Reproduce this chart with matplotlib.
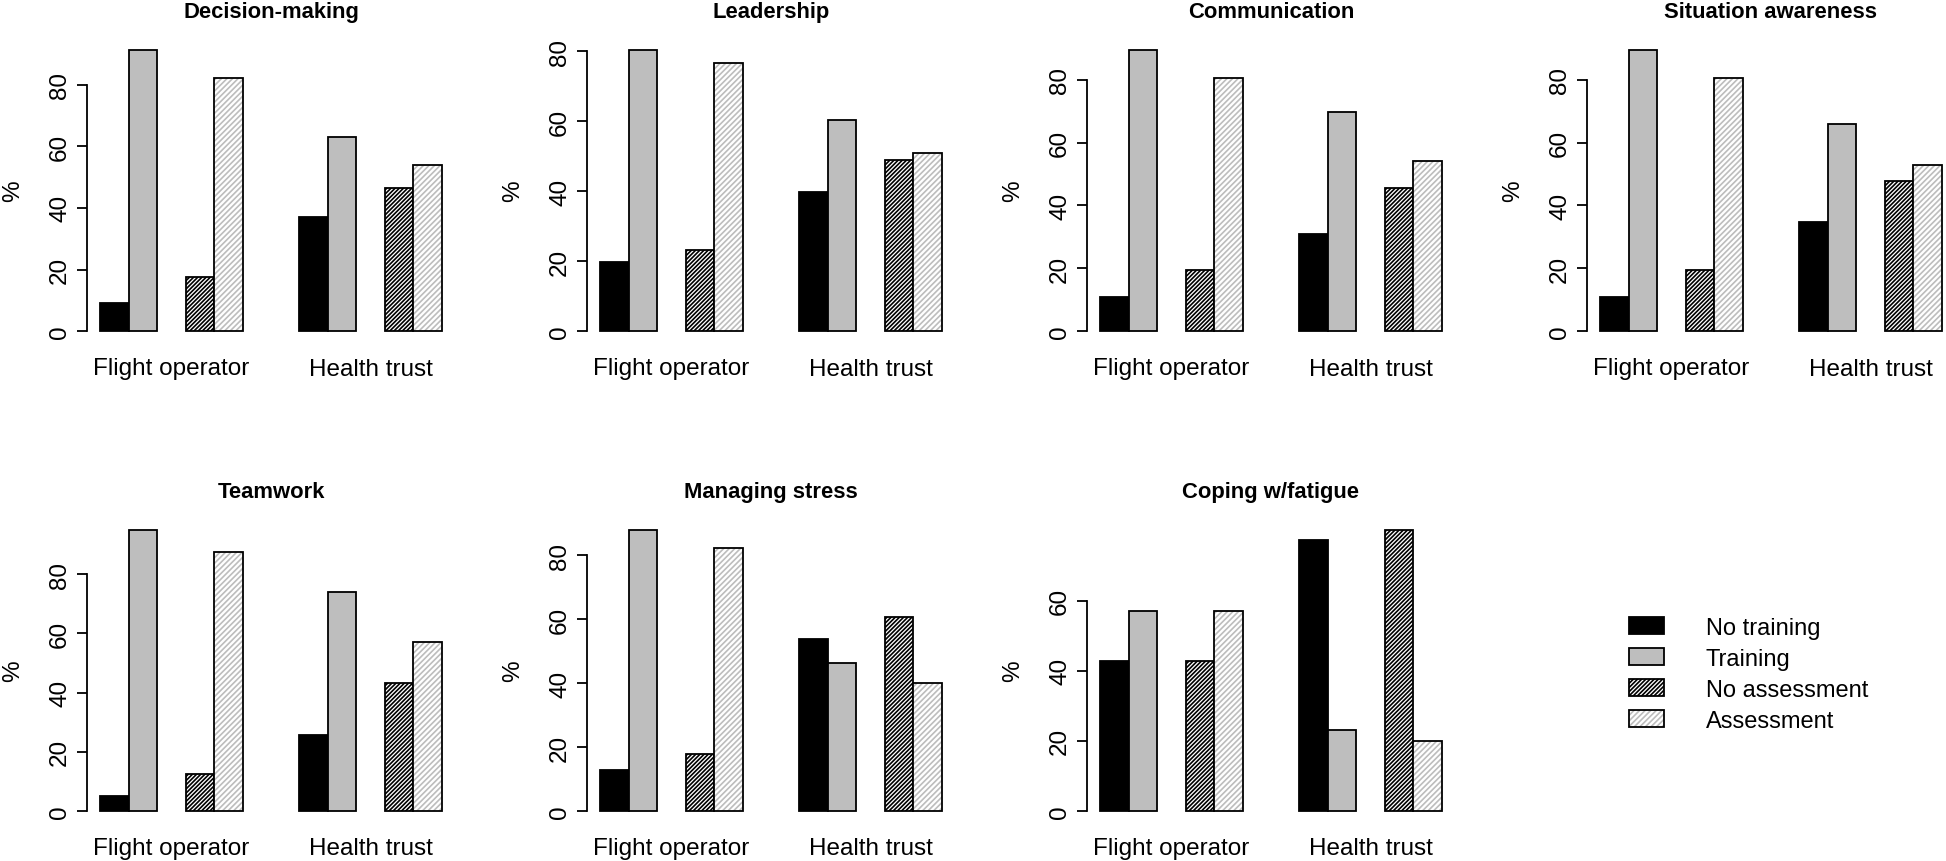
"""
NTS skills: training / assessment by organisation (flight operator vs health trust)
"""
import matplotlib
matplotlib.use("Agg")
import matplotlib.pyplot as plt
import matplotlib.transforms as mtrans
from matplotlib.patches import Patch

plt.rcParams["font.family"] = ["Liberation Sans", "DejaVu Sans"]
plt.rcParams["hatch.linewidth"] = 1.2

# ── data (% of respondents), order: FO no/yes training, FO no/yes assessment,
#    HT no/yes training, HT no/yes assessment
skills = ["Decision-making", "Leadership", "Communication", "Situation awareness",
          "Teamwork", "Managing stress", "Coping w/fatigue"]
no_training_fo  = [9.1, 19.9, 10.9, 10.9, 5.2, 12.7, 42.9]
training_fo     = [91.3, 80.4, 89.5, 89.5, 95.0, 88.1, 57.1]
no_assess_fo    = [17.7, 23.3, 19.5, 19.5, 12.6, 18.0, 42.7]
assess_fo       = [82.1, 76.7, 80.5, 80.5, 87.5, 82.3, 57.1]
no_training_ht  = [36.9, 39.7, 30.9, 34.6, 25.8, 53.8, 77.4]
training_ht     = [63.1, 60.2, 69.7, 66.0, 73.9, 46.3, 23.1]
no_assess_ht    = [46.6, 48.8, 45.7, 47.9, 43.2, 60.6, 80.3]
assess_ht       = [53.8, 51.0, 54.2, 52.7, 56.9, 40.0, 20.1]
ytick_max       = [80, 80, 80, 80, 80, 80, 60]
group_labels    = ["Flight operator", "Health trust"]
legend_labels   = ["No training", "Training", "No assessment", "Assessment"]

GRAY = "#BEBEBE"
HATCH_DARK = ("black", "////////")
HATCH_LIGHT = ("#BDBDBD", "//////")
FS = 17.5

W, H = 1946, 862
fig = plt.figure(figsize=(W / 100, H / 100), dpi=100)
fig.patch.set_facecolor("white")

ax_w = 368.6
ax_h = 304.0
row_top = [39.5, 519.3]


def hbar(ax, x, h, style):
    ax.bar(x, h, width=1, align="edge", facecolor="white", edgecolor=style[0],
           hatch=style[1], lw=0)
    ax.bar(x, h, width=1, align="edge", fill=False, edgecolor="black", lw=1.3)


for i, name in enumerate(skills):
    row, col = divmod(i, 4)
    left = 86.7 + 500 * col
    top = row_top[row]
    ax = fig.add_axes([left / W, 1 - (top + ax_h) / H, ax_w / W, ax_h / H])

    vals = [no_training_fo[i], training_fo[i], no_assess_fo[i], assess_fo[i],
            no_training_ht[i], training_ht[i], no_assess_ht[i], assess_ht[i]]
    xs = [1, 2, 4, 5, 8, 9, 11, 12]

    ax.bar(xs[0], vals[0], width=1, align="edge", color="black", edgecolor="black", lw=1.3)
    ax.bar(xs[1], vals[1], width=1, align="edge", color=GRAY, edgecolor="black", lw=1.3)
    hbar(ax, xs[2], vals[2], HATCH_DARK)
    hbar(ax, xs[3], vals[3], HATCH_LIGHT)
    ax.bar(xs[4], vals[4], width=1, align="edge", color="black", edgecolor="black", lw=1.3)
    ax.bar(xs[5], vals[5], width=1, align="edge", color=GRAY, edgecolor="black", lw=1.3)
    hbar(ax, xs[6], vals[6], HATCH_DARK)
    hbar(ax, xs[7], vals[7], HATCH_LIGHT)

    m = max(vals)
    ax.set_xlim(0.52, 13.48)
    ax.set_ylim(-0.04 * m, 1.04 * m)
    ticks = list(range(0, ytick_max[i] + 1, 20))
    ax.set_yticks(ticks)
    ax.set_yticklabels([str(t) for t in ticks], rotation=90, va="center")
    ax.spines[["top", "right", "bottom"]].set_visible(False)
    ax.spines["left"].set_bounds(0, ytick_max[i])
    ax.spines["left"].set_linewidth(1.3)
    ax.tick_params(axis="y", length=7.2, width=1.3, labelsize=FS, pad=4)
    ax.set_xticks([])

    trans = mtrans.blended_transform_factory(ax.transData, ax.transAxes)
    for xc, lab in zip([3.5, 10.5], group_labels):
        ax.text(xc, -32 / ax_h, lab, transform=trans, ha="center", va="baseline", fontsize=FS)

    ax.text(-73.5 / ax_w, 0.5, "%", transform=ax.transAxes, rotation=90,
            ha="center", va="center", fontsize=FS)
    ax.text(0.5, 1 + 21.5 / ax_h, name, transform=ax.transAxes, ha="center",
            va="baseline", fontsize=15.8, fontweight="bold")

# ── legend in the empty 8th slot
h1 = Patch(facecolor="black", edgecolor="black", lw=1.3)
h2 = Patch(facecolor=GRAY, edgecolor="black", lw=1.3)
h3 = (Patch(facecolor="white", edgecolor=HATCH_DARK[0], hatch=HATCH_DARK[1], lw=0),
      Patch(fill=False, edgecolor="black", lw=1.3))
h4 = (Patch(facecolor="white", edgecolor=HATCH_LIGHT[0], hatch=HATCH_LIGHT[1], lw=0),
      Patch(fill=False, edgecolor="black", lw=1.3))
fig.legend([h1, h2, h3, h4], legend_labels, loc="upper left",
           bbox_to_anchor=(1629 / W, 1 - 618 / H), frameon=False, fontsize=17,
           handlelength=1.48, handleheight=0.76, handletextpad=1.78,
           labelspacing=0.38, borderpad=0, borderaxespad=0)

plt.savefig("out.png", dpi=100, facecolor="white")
